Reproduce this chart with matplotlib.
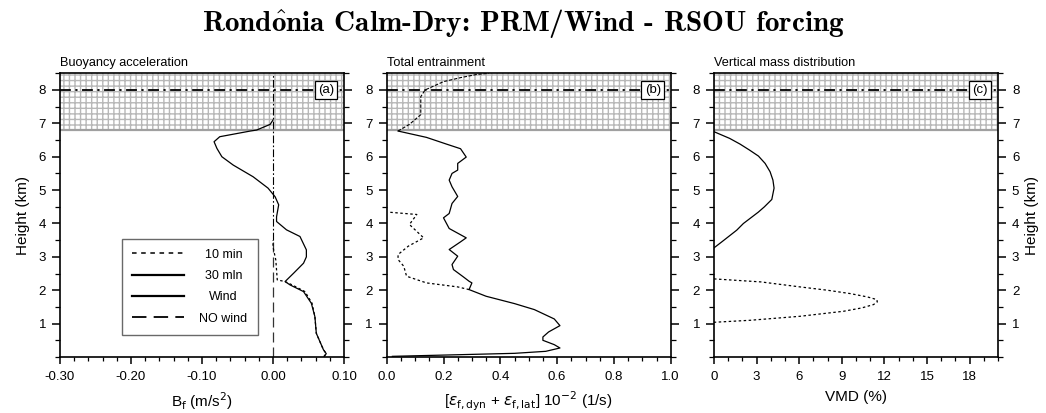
import matplotlib
matplotlib.use("Agg")
import matplotlib.pyplot as plt
from matplotlib.lines import Line2D
from matplotlib.ticker import MultipleLocator, FormatStrFormatter

plt.rcParams['font.family'] = ['Liberation Sans', 'DejaVu Sans']
plt.rcParams['hatch.linewidth'] = 1.0

# ---------------- data ----------------
# Panel (a): buoyancy acceleration
a_h_30 = [0.02, 0.1, 0.22, 0.71, 1.21, 1.61, 1.96, 2.16, 2.26, 2.51, 2.81, 3.0, 3.21, 3.61, 3.81,
          4.06, 4.2, 4.56, 4.8, 5.06, 5.4, 5.75, 6.0, 6.25, 6.45, 6.6, 6.77, 6.8, 6.97, 7.1]
a_b_30 = [0.072, 0.075, 0.071, 0.061, 0.059, 0.054, 0.043, 0.024, 0.017, 0.029, 0.043, 0.047, 0.047,
          0.038, 0.019, 0.005, 0.005, 0.008, 0.003, -0.007, -0.028, -0.056, -0.072, -0.079,
          -0.083, -0.075, -0.032, -0.023, -0.004, 0.0]
a_h_10 = [0.02, 0.1, 0.22, 0.71, 1.21, 1.61, 1.96, 2.16, 2.26, 2.31, 2.9, 3.3, 3.5]
a_b_10 = [0.072, 0.075, 0.071, 0.061, 0.059, 0.055, 0.045, 0.027, 0.017, 0.006, 0.004, 0.0, 0.0]
a_h_nowind = [0.0, 3.5]
a_b_nowind = [0.0, 0.0]
a_h_upper = [3.5, 8.5]
a_b_upper = [0.0, 0.0]

# Panel (b): total entrainment
b_h_30 = [0.02, 0.07, 0.11, 0.17, 0.27, 0.37, 0.5, 0.6, 0.75, 0.94, 1.14, 1.42, 1.6, 1.82,
          2.02, 2.22, 2.27, 2.4, 2.62, 2.77, 3.02, 3.22, 3.45, 3.57, 3.85, 4.17, 4.3, 4.6,
          4.81, 5.1, 5.3, 5.5, 5.6, 5.8, 5.99, 6.24, 6.38, 6.58, 6.77]
b_e_30 = [0.02, 0.26, 0.45, 0.56, 0.61, 0.59, 0.55, 0.55, 0.57, 0.61, 0.59, 0.52, 0.45, 0.35,
          0.29, 0.30, 0.29, 0.27, 0.235, 0.23, 0.25, 0.22, 0.26, 0.28, 0.22, 0.20, 0.22, 0.23,
          0.25, 0.23, 0.22, 0.23, 0.25, 0.25, 0.28, 0.26, 0.21, 0.14, 0.04]
b_h_top = [6.77, 6.97, 7.26, 7.6, 7.8, 8.0, 8.25, 8.37, 8.47, 8.5]
b_e_top = [0.04, 0.08, 0.12, 0.12, 0.12, 0.135, 0.2, 0.26, 0.32, 0.36]
b_h_10 = [2.02, 2.1, 2.22, 2.42, 2.72, 2.92, 3.07, 3.32, 3.57, 3.97, 4.27, 4.34]
b_e_10 = [0.29, 0.25, 0.14, 0.07, 0.06, 0.04, 0.04, 0.076, 0.13, 0.08, 0.106, 0.006]

# Panel (c): vertical mass distribution
c_h_30 = [3.27, 3.45, 3.6, 3.8, 4.0, 4.34, 4.5, 4.72, 5.06, 5.3, 5.55, 5.8, 6.02, 6.2, 6.38, 6.55, 6.75]
c_v_30 = [0.0, 0.55, 1.0, 1.6, 2.07, 3.12, 3.55, 4.07, 4.23, 4.15, 3.95, 3.6, 3.13, 2.5, 1.83, 1.1, 0.0]
c_h_10 = [2.34, 2.25, 2.1, 2.0, 1.9, 1.8, 1.72, 1.65, 1.57, 1.47, 1.37, 1.22, 1.1, 1.04]
c_v_10 = [0.0, 3.3, 6.06, 8.0, 9.59, 10.8, 11.47, 11.5, 11.23, 10.4, 9.12, 6.06, 2.54, 0.0]

titles = ["Buoyancy acceleration", "Total entrainment", "Vertical mass distribution"]
tags = ["(a)", "(b)", "(c)"]
xlabels = [r"B$_\mathrm{f}$ (m/s$^\mathrm{2}$)",
           r"[$\varepsilon_\mathrm{f,dyn}$ + $\varepsilon_\mathrm{f,lat}$] 10$^\mathrm{-2}$ (1/s)",
           "VMD (%)"]
xlims = [(-0.30, 0.10), (0.0, 1.0), (0.0, 20.0)]
xmajor = [0.10, 0.2, 3]
xminor = [0.02, 0.05, 1]
xfmt = ["%.2f", "%.1f", "%d"]
legend_labels = ["10 min", "30 mln", "Wind", "NO wind"]
main_title = r"Rond$\mathbf{\hat{o}}$nia Calm-Dry: PRM/Wind - RSOU forcing"

# ---------------- figure ----------------
W, H = 1046, 413
fig = plt.figure(figsize=(W / 100, H / 100), dpi=100)
lefts = [60, 386.7, 714]
aw, ah = 284, 283.7
bottom = 357
axes = [fig.add_axes([l / W, (H - bottom) / H, aw / W, ah / H]) for l in lefts]

for i, ax in enumerate(axes):
    x0, x1 = xlims[i]
    ax.set_xlim(x0, x1)
    ax.set_ylim(0, 8.5)
    ax.fill_between([x0, x1], 6.8, 8.5, facecolor='white', edgecolor='#b8b8b8',
                    hatch='+++', linewidth=0, zorder=0)
    ax.plot([x0, x1], [6.8, 6.8], color='#a0a0a0', lw=1.6, zorder=1)
    ax.plot([x0, x1], [8.0, 8.0], color='black', lw=1.3,
            dashes=(6, 2.5, 1.2, 2.5), zorder=2)
    ax.text(0.965, 8.0, tags[i], ha='right', va='center', fontsize=9.5,
            transform=ax.get_yaxis_transform(),
            bbox=dict(boxstyle='square,pad=0.25', fc='white', ec='black', lw=0.9), zorder=5)
    ax.set_title(titles[i], loc='left', fontsize=9.2, pad=5)
    ax.set_xlabel(xlabels[i], fontsize=11, labelpad=5)
    ax.xaxis.set_major_locator(MultipleLocator(xmajor[i]))
    ax.xaxis.set_minor_locator(MultipleLocator(xminor[i]))
    ax.xaxis.set_major_formatter(FormatStrFormatter(xfmt[i]))
    ax.yaxis.set_minor_locator(MultipleLocator(0.5))
    ax.set_yticks([1, 2, 3, 4, 5, 6, 7, 8])
    ax.tick_params(axis='x', which='major', direction='out', length=5, width=1.1,
                   labelsize=9.5, pad=5)
    ax.tick_params(axis='x', which='minor', direction='out', length=3, width=0.9)
    ax.tick_params(axis='y', which='major', direction='out', length=6, width=1.1,
                   labelsize=9.5, left=True, right=True, pad=4)
    ax.tick_params(axis='y', which='minor', direction='out', length=3.5, width=0.9,
                   left=True, right=True)
    for s in ax.spines.values():
        s.set_linewidth(1.2)

axes[0].tick_params(axis='y', labelleft=True, labelright=False)
axes[1].tick_params(axis='y', labelleft=True, labelright=False)
axes[2].tick_params(axis='y', labelleft=True, labelright=True)
axes[0].set_ylabel("Height (km)", fontsize=11, labelpad=6)
axes[2].yaxis.set_label_position('right')
axes[2].set_ylabel("Height (km)", fontsize=11, labelpad=4)

lw = 0.9
ax = axes[0]
ax.plot(a_b_nowind, a_h_nowind, color='#333333', lw=lw, dashes=(8, 4))
ax.plot(a_b_upper, a_h_upper, color='black', lw=0.8, dashes=(7, 2, 1.5, 2))
ax.plot(a_b_10, a_h_10, color='black', lw=lw, dashes=(2, 2))
ax.plot(a_b_30, a_h_30, color='black', lw=lw)
handles = [Line2D([], [], color='black', lw=1.1, dashes=(3, 3)),
           Line2D([], [], color='black', lw=1.6),
           Line2D([], [], color='black', lw=1.6),
           Line2D([], [], color='black', lw=1.3, dashes=(8, 4))]
leg = ax.legend(handles, legend_labels, loc='lower left', bbox_to_anchor=(0.218, 0.078),
                fontsize=9, frameon=True, fancybox=False, edgecolor='#444444',
                handlelength=4.2, handletextpad=1.2, labelspacing=0.75,
                borderpad=0.8, borderaxespad=0)
leg.get_frame().set_linewidth(1.0)

ax = axes[1]
ax.plot(b_e_30, b_h_30, color='black', lw=lw)
ax.plot(b_e_top, b_h_top, color='black', lw=0.8, dashes=(3, 1.5))
ax.plot(b_e_10, b_h_10, color='black', lw=lw, dashes=(2, 2))

ax = axes[2]
ax.plot(c_v_30, c_h_30, color='black', lw=lw)
ax.plot(c_v_10, c_h_10, color='black', lw=lw, dashes=(2, 2))

fig.text(0.5, 0.943, main_title, ha='center', va='center',
         fontsize=21, family=['cmb10', 'DejaVu Serif'], math_fontfamily='cm')

# centre the legend labels within their column
fig.canvas.draw()
r = fig.canvas.get_renderer()
texts = leg.get_texts()
widths = [t.get_window_extent(r).width for t in texts]
mw = max(widths)
for t, w in zip(texts, widths):
    x, y = t.get_position()
    t.set_position((x + (mw - w) / 2, y))

fig.savefig("out.png", dpi=100)
